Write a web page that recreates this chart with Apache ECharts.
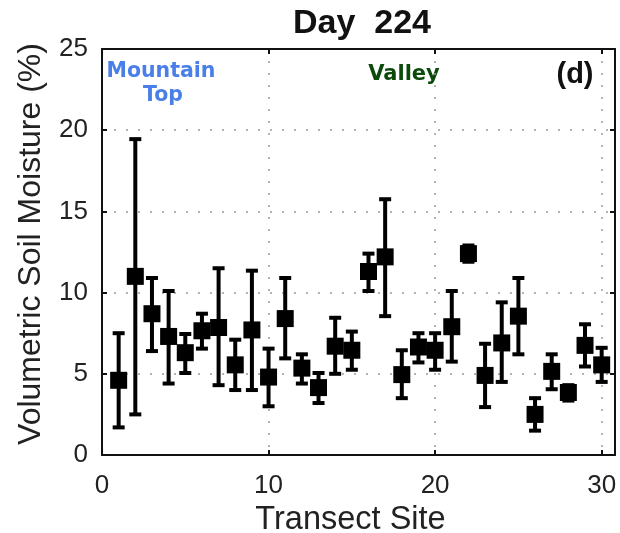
<!DOCTYPE html>
<html>
<head>
<meta charset="utf-8">
<script src="https://cdn.jsdelivr.net/npm/echarts@6/dist/echarts.min.js"></script>
<style>
html,body{margin:0;padding:0;background:#fff;}
#chart{width:620px;height:533px;}
</style>
</head>
<body>
<div id="chart"></div>
<script>
const sites = [1,2,3,4,5,6,7,8,9,10,11,12,13,14,15,16,17,18,19,20,21,22,23,24,25,26,27,28,29,30];
const means = [4.6,11.0,8.7,7.3,6.3,7.65,7.85,5.55,7.7,4.8,8.4,5.35,4.15,6.7,6.45,11.3,12.2,4.95,6.65,6.45,7.9,12.4,4.9,6.9,8.55,2.5,5.15,3.85,6.75,5.55];
const upper = [7.5,19.45,10.9,10.1,7.45,8.7,11.5,7.1,11.35,6.55,10.9,6.2,5.05,8.45,7.6,12.4,15.75,6.45,7.5,7.5,10.1,12.9,6.85,9.4,10.9,3.5,6.2,4.3,8.05,6.6];
const lower = [1.7,2.5,6.4,4.4,5.05,6.55,4.3,4.0,4.0,3.0,5.95,4.4,3.2,5.0,5.25,10.1,8.55,3.5,5.7,5.25,5.75,11.9,2.95,4.5,6.2,1.5,4.05,3.35,5.45,4.5];
const xTicks = [0,10,20,30];
const yTicks = [0,5,10,15,20,25];

const chart = echarts.init(document.getElementById('chart'), null, {renderer:'canvas'});
const errData = sites.map((s,i)=>[s, lower[i], upper[i]]);
const ptData = sites.map((s,i)=>[s, means[i]]);
const labelFont = 'Liberation Sans';

const gridLine = {show:true, lineStyle:{color:'#9a9a9a', type:[2,10], width:1.5}};

const option = {
  animation:false,
  backgroundColor:'#fff',
  title:{
    text:'Day  224', left:357, top:2, textAlign:'center',
    textStyle:{fontFamily:labelFont, fontWeight:'bold', fontSize:34, color:'#111'}
  },
  grid:{left:102, top:49, right:5, bottom:78, show:false, outerBoundsMode:'none', containLabel:false},
  xAxis:[{
    type:'value', min:0, max:30.8, interval:10, position:'bottom',
    name:'Transect Site', nameLocation:'middle', nameGap:46,
    nameTextStyle:{fontFamily:labelFont, fontSize:32.5, color:'#222', padding:[0,16,0,0]},
    axisLine:{show:true, onZero:false, lineStyle:{color:'#111', width:2}},
    axisTick:{show:true, inside:true, length:5, lineStyle:{color:'#111', width:2}},
    axisLabel:{fontFamily:labelFont, fontSize:26, color:'#222', margin:18,
      formatter:v=> xTicks.includes(v) ? String(v) : ''},
    splitLine:gridLine
  },{
    type:'value', min:0, max:30.8, interval:10, position:'top',
    axisLine:{show:true, onZero:false, lineStyle:{color:'#111', width:2}},
    axisTick:{show:true, inside:true, length:5, lineStyle:{color:'#111', width:2}},
    axisLabel:{show:false}, splitLine:{show:false}
  }],
  yAxis:[{
    type:'value', min:0, max:25, interval:5, position:'left',
    name:'Volumetric Soil Moisture (%)', nameLocation:'middle', nameGap:55,
    nameTextStyle:{fontFamily:labelFont, fontSize:32, color:'#222', padding:[0,0,0,16]},
    axisLine:{show:true, onZero:false, lineStyle:{color:'#111', width:2}},
    axisTick:{show:true, inside:true, length:5, lineStyle:{color:'#111', width:2}},
    axisLabel:{fontFamily:labelFont, fontSize:26, color:'#222', margin:14,
      formatter:v=> yTicks.includes(v) ? String(v) : ''},
    splitLine:gridLine
  },{
    type:'value', min:0, max:25, interval:5, position:'right',
    axisLine:{show:true, onZero:false, lineStyle:{color:'#111', width:2}},
    axisTick:{show:true, inside:true, length:5, lineStyle:{color:'#111', width:2}},
    axisLabel:{show:false}, splitLine:{show:false}
  }],
  graphic:[
    {type:'text', x:161, y:72, style:{text:'Mountain', textAlign:'center', textVerticalAlign:'middle', fontFamily:'DejaVu Sans', fontWeight:'bold', fontSize:20.5, fill:'#4a7fe8'}},
    {type:'text', x:163, y:96, style:{text:'Top', textAlign:'center', textVerticalAlign:'middle', fontFamily:'DejaVu Sans', fontWeight:'bold', fontSize:20.5, fill:'#4a7fe8'}},
    {type:'text', x:404, y:75, style:{text:'Valley', textAlign:'center', textVerticalAlign:'middle', fontFamily:'DejaVu Sans', fontWeight:'bold', fontSize:21, fill:'#0b4a0b'}},
    {type:'text', x:575, y:75, style:{text:'(d)', textAlign:'center', textVerticalAlign:'middle', fontFamily:labelFont, fontWeight:'bold', fontSize:29, fill:'#111'}}
  ],
  series:[{
    type:'custom',
    xAxisIndex:0, yAxisIndex:0,
    data:errData,
    renderItem:function(params, api){
      const x = api.value(0);
      const pLo = api.coord([x, api.value(1)]);
      const pHi = api.coord([x, api.value(2)]);
      const cw = 6;
      const st = {stroke:'#000', lineWidth:4};
      return {type:'group', children:[
        {type:'line', shape:{x1:pLo[0], y1:pLo[1], x2:pHi[0], y2:pHi[1]}, style:st},
        {type:'line', shape:{x1:pHi[0]-cw, y1:pHi[1], x2:pHi[0]+cw, y2:pHi[1]}, style:st},
        {type:'line', shape:{x1:pLo[0]-cw, y1:pLo[1], x2:pLo[0]+cw, y2:pLo[1]}, style:st}
      ]};
    },
    z:2
  },{
    type:'scatter',
    xAxisIndex:0, yAxisIndex:0,
    data:ptData,
    symbol:'rect', symbolSize:17,
    itemStyle:{color:'#000', opacity:1},
    z:3
  }]
};
chart.setOption(option);
</script>
</body>
</html>
